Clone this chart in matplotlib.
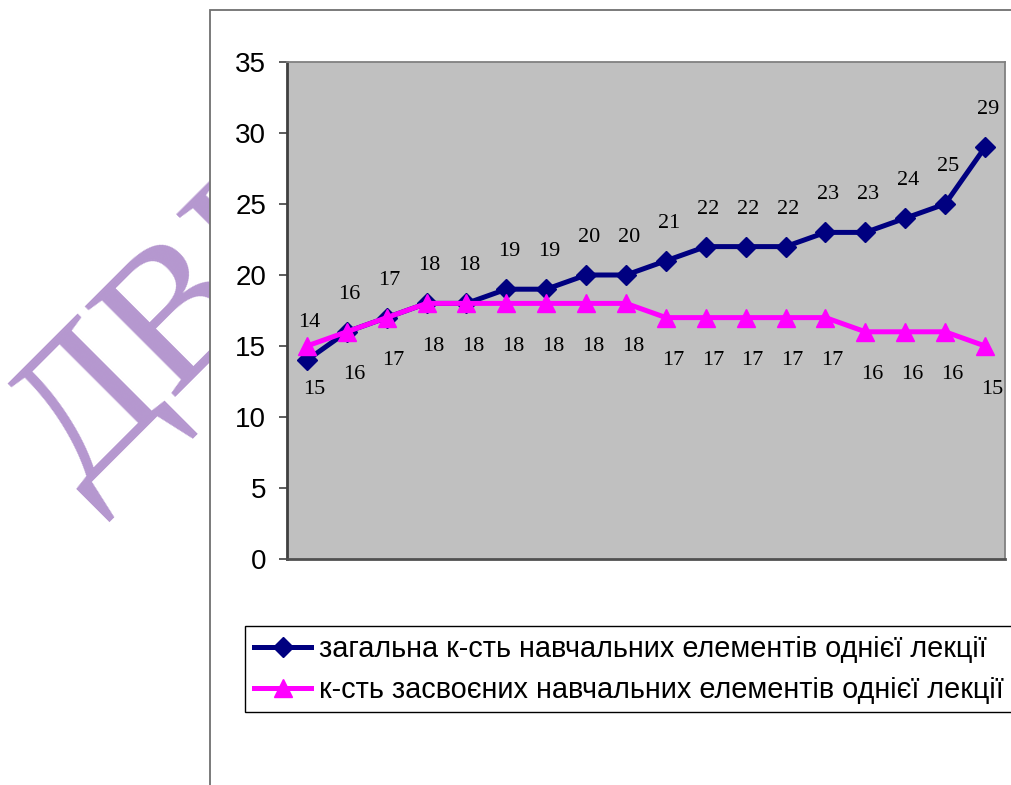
import matplotlib
matplotlib.use("Agg")
import matplotlib.pyplot as plt
from matplotlib.patches import Rectangle

# lecture-by-lecture counts of learning elements
total_elements = [14, 16, 17, 18, 18, 19, 19, 20, 20, 21, 22, 22, 22, 23, 23, 24, 25, 29]
learned_elements = [15, 16, 17, 18, 18, 18, 18, 18, 18, 17, 17, 17, 17, 17, 16, 16, 16, 15]

total_name = "загальна к-сть навчальних елементів однієї лекції"
learned_name = "к-сть засвоєних навчальних елементів однієї лекції"

y_ticks = [0, 5, 10, 15, 20, 25, 30, 35]

W, H = 1012, 785
fig = plt.figure(figsize=(W / 100, H / 100), dpi=100)

# faint watermark behind the chart
fig.text(78 / W, 1 - 492 / H, "ДВНЗ", family="Liberation Serif", fontsize=140,
         color="#b597cf", rotation=45, rotation_mode="anchor",
         ha="left", va="baseline", zorder=-3)

# white chart area with its thin frame
fig.add_artist(Rectangle((210 / W, -0.1), 1.0, 1 - 10 / H + 0.1,
                         transform=fig.transFigure, facecolor="white",
                         edgecolor="#707070", linewidth=1.3, zorder=-2))

ax = fig.add_axes([287 / W, 1 - 559 / H, (1005 - 287) / W, (559 - 62) / H])
ax.set_facecolor("#c0c0c0")

x = list(range(len(total_elements)))
ax.plot(x, total_elements, color="#000080", linewidth=3.6, marker="D",
        markersize=10, label=total_name, zorder=3)
ax.plot(x, learned_elements, color="#ff00ff", linewidth=3.6, marker="^",
        markersize=13, label=learned_name, zorder=4)

for i, v in enumerate(total_elements):
    ax.annotate(str(v), (i, v), xytext=(2, 27), textcoords="offset points",
                ha="center", va="center", family="Liberation Serif",
                fontsize=16, color="black", zorder=5)
for i, v in enumerate(learned_elements):
    ax.annotate(str(v), (i, v), xytext=(5, -31), textcoords="offset points",
                ha="center", va="center", family="Liberation Serif",
                fontsize=16, color="black", zorder=5)

ax.set_xlim(-0.5, len(total_elements) - 0.5)
ax.set_ylim(0, 35)
ax.set_yticks(y_ticks)
ax.set_xticks([])
ax.tick_params(axis="y", direction="out", length=6, width=1.2, pad=9,
               labelsize=20, color="#404040")
for lbl in ax.get_yticklabels():
    lbl.set_family("Liberation Sans")

for side in ("top", "right"):
    ax.spines[side].set_color("#808080")
    ax.spines[side].set_linewidth(1.3)
ax.spines["left"].set_color("#404040")
ax.spines["left"].set_linewidth(2)
ax.spines["bottom"].set_color("#505050")
ax.spines["bottom"].set_linewidth(2)

leg = fig.legend(loc="upper left", bbox_to_anchor=(245 / W, 1 - 626 / H),
                 borderaxespad=0, frameon=True, fancybox=False,
                 edgecolor="black", framealpha=1, handlelength=2.0,
                 handletextpad=0.25, borderpad=0.3, labelspacing=0.45,
                 prop={"family": "Liberation Sans", "size": 20.8})
leg.get_frame().set_linewidth(1.0)

fig.savefig("out.png", dpi=100)
